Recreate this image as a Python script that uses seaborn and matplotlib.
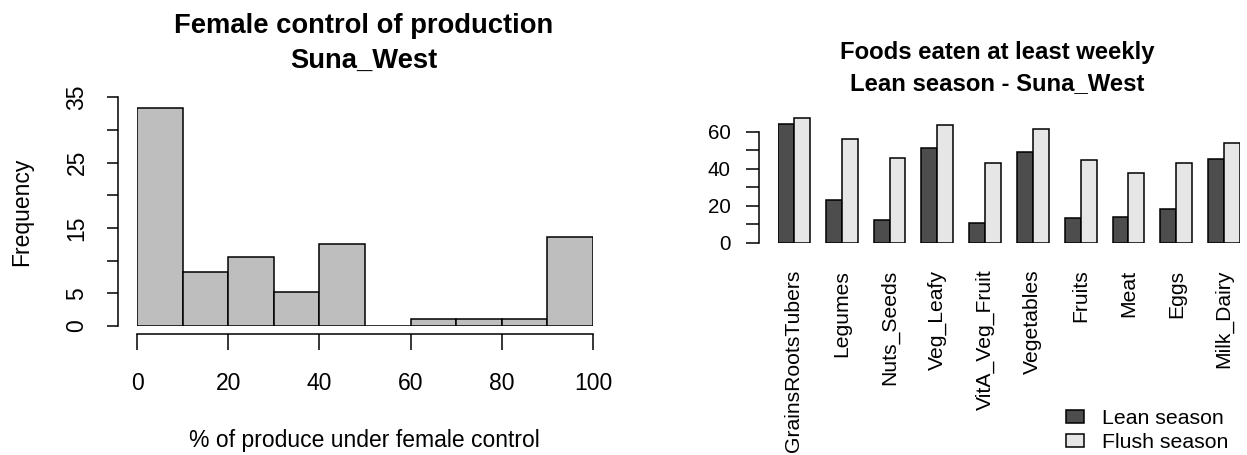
import numpy as np
import pandas as pd
import matplotlib
matplotlib.use("Agg")
import matplotlib.pyplot as plt
import seaborn as sns

# ---------------- data ----------------
bin_edges = [0, 10, 20, 30, 40, 50, 60, 70, 80, 90, 100]
hist_counts = [33.4, 8.3, 10.6, 5.2, 12.6, 0, 1, 1, 1, 13.6]
hist_xticks = [0, 20, 40, 60, 80, 100]
hist_yticks = [0, 5, 10, 15, 20, 25, 30, 35]
hist_ylabels = ["0", "5", "", "15", "", "25", "", "35"]

foods = ["GrainsRootsTubers", "Legumes", "Nuts_Seeds", "Veg_Leafy", "VitA_Veg_Fruit",
         "Vegetables", "Fruits", "Meat", "Eggs", "Milk_Dairy"]
lean = [64.1, 22.9, 12.3, 51.2, 10.6, 48.8, 13.2, 13.9, 18.0, 45.4]
flush = [67.4, 56.0, 45.6, 63.4, 43.2, 61.6, 44.7, 37.5, 43.2, 53.7]
seasons = ["Lean season", "Flush season"]
bar_yticks = [0, 10, 20, 30, 40, 50, 60]
bar_ylabels = ["0", "", "20", "", "40", "", "60"]

sns.set_style("white")
plt.rcParams["font.family"] = ["Liberation Sans", "DejaVu Sans"]
for k in ["text.color", "axes.labelcolor", "xtick.color", "ytick.color", "axes.edgecolor"]:
    plt.rcParams[k] = "black"

W, H = 1247, 455
fig = plt.figure(figsize=(W / 100, H / 100), dpi=100)

def px2pt(p):
    return p * 72 / 100

def box(l, r, top, bottom):
    return [l / W, 1 - bottom / H, (r - l) / W, (bottom - top) / H]

# ---------------- left: histogram ----------------
ax1 = fig.add_axes(box(137, 593, 97.3, 326))
centers = [(bin_edges[i] + bin_edges[i + 1]) / 2 for i in range(len(hist_counts))]
sns.histplot(x=centers, weights=hist_counts, bins=bin_edges, ax=ax1,
             color="#bebebe", edgecolor="black", linewidth=1.1, alpha=1)
ax1.set_xlim(0, 100)
ax1.set_ylim(0, 35)
for s in ["top", "right"]:
    ax1.spines[s].set_visible(False)
ax1.spines["left"].set_position(("outward", px2pt(19)))
ax1.spines["bottom"].set_position(("outward", px2pt(8)))
ax1.spines["left"].set_bounds(0, 35)
ax1.spines["bottom"].set_bounds(0, 100)
for s in ["left", "bottom"]:
    ax1.spines[s].set_linewidth(1.1)
    ax1.spines[s].set_color("black")
ax1.set_xticks(hist_xticks)
ax1.set_yticks(hist_yticks)
ax1.set_yticklabels(hist_ylabels)
ax1.tick_params(axis="x", length=px2pt(15.5), width=1.1, pad=px2pt(23), labelsize=16.5,
                direction="out", bottom=True, color="black", labelcolor="black")
ax1.tick_params(axis="y", length=px2pt(11.5), width=1.1, pad=px2pt(18), labelsize=16.5,
                direction="out", left=True, labelrotation=90, color="black", labelcolor="black")
for lab in ax1.get_yticklabels():
    lab.set_va("center")
ax1.set_xlabel("% of produce under female control", fontsize=16.5, color="black")
ax1.xaxis.label.set_va("baseline")
ax1.xaxis.set_label_coords((364 - 137) / 456, (326 - 447) / 228.7)
ax1.set_ylabel("Frequency", fontsize=16.5, color="black")
ax1.yaxis.label.set_va("baseline")
ax1.yaxis.set_label_coords((28 - 137) / 456, (326 - 211.5) / 228.7)
fig.text(364 / W, 1 - 33 / H, "Female control of production", ha="center", va="baseline",
         fontsize=19.7, fontweight="bold", color="black")
fig.text(364 / W, 1 - 68 / H, "Suna_West", ha="center", va="baseline",
         fontsize=19.7, fontweight="bold", color="black")

# ---------------- right: grouped bars ----------------
df = pd.DataFrame({
    "food": foods * 2,
    "pct": lean + flush,
    "season": [seasons[0]] * len(foods) + [seasons[1]] * len(foods),
})
ax2 = fig.add_axes(box(778, 1240, 242.7 - 70 * 1.85, 242.7))
sns.barplot(data=df, x="food", y="pct", hue="season", order=foods, hue_order=seasons,
            palette=["#4d4d4d", "#e6e6e6"], width=2 / 3, saturation=1,
            edgecolor="black", linewidth=1.1, ax=ax2, errorbar=None)
ax2.set_xlim(-1 / 3, len(foods) - 1 + 1 / 3)
ax2.set_ylim(0, 70)
for s in ["top", "right", "bottom"]:
    ax2.spines[s].set_visible(False)
ax2.spines["left"].set_position(("outward", px2pt(19)))
ax2.spines["left"].set_bounds(0, 60)
ax2.spines["left"].set_linewidth(1.1)
ax2.spines["left"].set_color("black")
ax2.set_yticks(bar_yticks)
ax2.set_yticklabels(bar_ylabels)
ax2.tick_params(axis="y", length=px2pt(13), width=1.1, pad=px2pt(15), labelsize=14.8,
                direction="out", left=True, color="black", labelcolor="black")
ax2.tick_params(axis="x", length=0, pad=px2pt(27), labelsize=15.2, labelrotation=90,
                labelcolor="black")
for lab in ax2.get_xticklabels():
    lab.set_ha("center")
    lab.set_va("top")
ax2.set_xlabel("")
ax2.set_ylabel("")
handles, labels = ax2.get_legend_handles_labels()
leg = ax2.legend(handles, labels, loc="center left", bbox_to_anchor=(1066 / W, 1 - 430.5 / H),
                 bbox_transform=fig.transFigure, frameon=False, fontsize=15.3,
                 handlelength=0.85, handleheight=0.55, handletextpad=0.85, labelspacing=0.25,
                 borderpad=0, borderaxespad=0)
for t in leg.get_texts():
    t.set_color("black")
fig.text(997 / W, 1 - 59 / H, "Foods eaten at least weekly", ha="center", va="baseline",
         fontsize=17.2, fontweight="bold", color="black")
fig.text(997 / W, 1 - 90 / H, "Lean season - Suna_West", ha="center", va="baseline",
         fontsize=17.2, fontweight="bold", color="black")

fig.savefig("out.png", dpi=100)
